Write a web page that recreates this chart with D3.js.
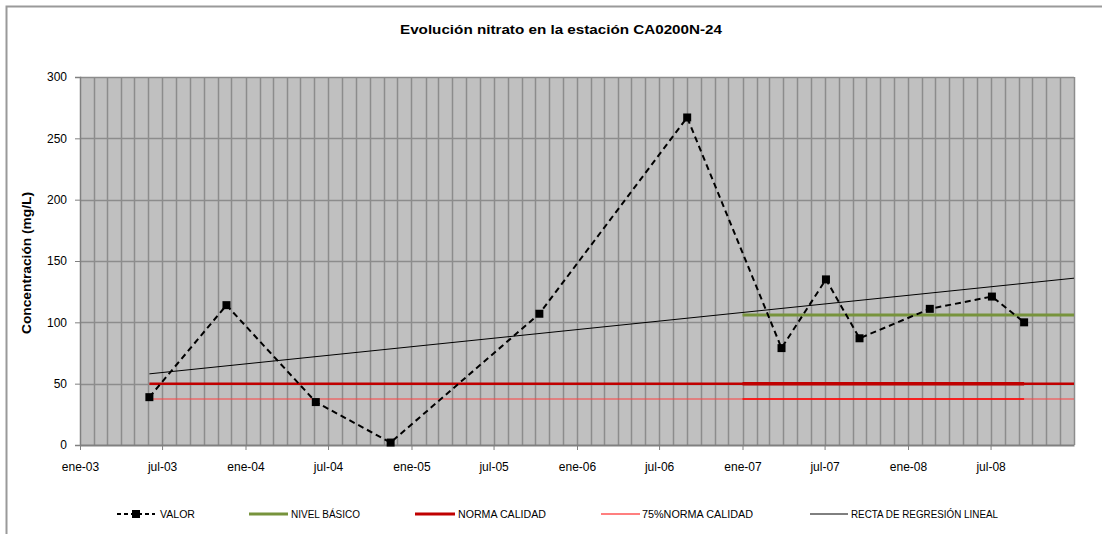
<!DOCTYPE html>
<html><head><meta charset="utf-8">
<script src="https://cdn.jsdelivr.net/npm/d3@7"></script>
<style>body{margin:0;background:#fff}svg{display:block;font-family:"Liberation Sans",Arial,sans-serif}</style>
</head><body><svg id="c" width="1102" height="534"></svg>
<script>
// ---- data ----
const sampleDates = ["2003-06-03","2003-11-20","2004-06-04","2004-11-16","2005-10-10","2006-09-01","2007-03-28","2007-07-04","2007-09-16","2008-02-18","2008-07-04","2008-09-13"];
const valor = [39,114,35,2,107,267,79,135,87,111,121,100];
const nivelBasico = 106;
const nivelBasicoStart = "2007-01-01";
const normaCalidad = 50;
const norma75 = 37.5;
const regresion = [58, 136]; // values at first sample date and at axis end
const xTickLabels = ["ene-03","jul-03","ene-04","jul-04","ene-05","jul-05","ene-06","jul-06","ene-07","jul-07","ene-08","jul-08"];
const yTicks = [0,50,100,150,200,250,300];
const legendLabels = ["VALOR","NIVEL BÁSICO","NORMA CALIDAD","75%NORMA CALIDAD","RECTA DE REGRESIÓN LINEAL"];

const parse = d3.timeParse("%Y-%m-%d");
const svg = d3.select("#c");
const L = 80, R = 1074, T = 77, B = 445;
const x = d3.scaleTime().domain([new Date(2003,0,1), new Date(2009,0,1)]).range([L,R]);
const y = d3.scaleLinear().domain([0,300]).range([B,T]);
const dates = sampleDates.map(parse);
const d0 = dates[0], dEnd = x.domain()[1], dLast = dates[dates.length-1];

// frame
svg.append("path").attr("d",`M6.5,534 V6.5 H1102`).attr("fill","none").attr("stroke","#9a9a9a").attr("stroke-width",2);

// title
svg.append("text").attr("x",561).attr("y",34).attr("text-anchor","middle")
  .attr("font-size",13).attr("font-weight","bold").attr("textLength",322).attr("lengthAdjust","spacingAndGlyphs")
  .text("Evolución nitrato en la estación CA0200N-24");

// plot bg
svg.append("rect").attr("x",L).attr("y",T).attr("width",R-L).attr("height",B-T).attr("fill","#c0c0c0");

// vertical monthly grid
const months = d3.timeMonth.range(x.domain()[0], d3.timeDay.offset(dEnd,1));
svg.append("g").selectAll("line").data(months.slice(1)).join("line")
  .attr("x1",d=>Math.round(x(d))+0.5).attr("x2",d=>Math.round(x(d))+0.5).attr("y1",T).attr("y2",B)
  .attr("stroke","#8c8c8c").attr("stroke-width",1.5);
// horizontal grid
svg.append("g").selectAll("line").data(yTicks.slice(1)).join("line")
  .attr("x1",L).attr("x2",R).attr("y1",d=>Math.round(y(d))+0.5).attr("y2",d=>Math.round(y(d))+0.5)
  .attr("stroke","#8c8c8c").attr("stroke-width",1.5);

// y axis
const yAxis = svg.append("g").attr("transform",`translate(${L},0)`)
  .call(d3.axisLeft(y).tickValues(yTicks).tickSize(5).tickPadding(8));
yAxis.select(".domain").attr("stroke","#808080").attr("stroke-width",1.5);
yAxis.selectAll(".tick line").attr("stroke","#808080");
yAxis.selectAll("text").attr("font-size",12).attr("font-family","Liberation Sans, Arial").attr("fill","#000");

// x axis
const xTickDates = xTickLabels.map((s,i)=>d3.timeMonth.offset(x.domain()[0], i*6));
const xAxis = svg.append("g").attr("transform",`translate(0,${B})`)
  .call(d3.axisBottom(x).tickValues(xTickDates).tickFormat((d,i)=>xTickLabels[i]).tickSize(5).tickSizeOuter(0).tickPadding(12));
xAxis.select(".domain").attr("stroke","#808080").attr("stroke-width",2);
xAxis.selectAll(".tick line").attr("stroke","#808080");
xAxis.selectAll("text").attr("font-size",12).attr("font-family","Liberation Sans, Arial").attr("fill","#000");

// y label
svg.append("text").attr("transform","translate(31,263) rotate(-90)").attr("text-anchor","middle")
  .attr("font-size",12).attr("font-weight","bold").attr("textLength",142).attr("lengthAdjust","spacingAndGlyphs")
  .text("Concentración (mg/L)");

const line = d3.line().x(d=>x(d[0])).y(d=>y(d[1]));
// 75% norma
svg.append("path").attr("d",line([[d0,norma75],[dEnd,norma75]])).attr("stroke","#ff4040").attr("stroke-width",1.2).attr("fill","none");
svg.append("path").attr("d",line([[parse(nivelBasicoStart),norma75],[dLast,norma75]])).attr("stroke","#ff0000").attr("stroke-width",1.5).attr("fill","none");
// norma
svg.append("path").attr("d",line([[d0,normaCalidad],[dEnd,normaCalidad]])).attr("stroke","#c00000").attr("stroke-width",2.5).attr("fill","none");
svg.append("path").attr("d",line([[parse(nivelBasicoStart),normaCalidad],[dLast,normaCalidad]])).attr("stroke","#c00000").attr("stroke-width",3.5).attr("fill","none");
// nivel basico
svg.append("path").attr("d",line([[parse(nivelBasicoStart),nivelBasico],[dEnd,nivelBasico]])).attr("stroke","#77933c").attr("stroke-width",3).attr("fill","none");
// regression
svg.append("path").attr("d",line([[d0,regresion[0]],[dEnd,regresion[1]]])).attr("stroke","#000").attr("stroke-width",1).attr("fill","none");
// valor
svg.append("path").attr("d",line(dates.map((d,i)=>[d,valor[i]]))).attr("stroke","#000").attr("stroke-width",2).attr("stroke-dasharray","6,4").attr("fill","none");
svg.append("g").selectAll("rect").data(dates).join("rect")
  .attr("x",(d)=>x(d)-4).attr("y",(d,i)=>y(valor[i])-4).attr("width",8).attr("height",8).attr("fill","#000");

// legend
const ly = 514;
const leg = [
  {sx:117, ex:155, tx:160, tw:35},
  {sx:249, ex:288, tx:291, tw:69},
  {sx:415, ex:455, tx:458, tw:88},
  {sx:601, ex:640, tx:642, tw:111},
  {sx:810, ex:848, tx:851, tw:147}
];
const g = svg.append("g");
g.append("line").attr("x1",leg[0].sx).attr("x2",leg[0].ex).attr("y1",ly).attr("y2",ly).attr("stroke","#000").attr("stroke-width",2).attr("stroke-dasharray","4,3");
g.append("rect").attr("x",(leg[0].sx+leg[0].ex)/2-4).attr("y",ly-4).attr("width",8).attr("height",8).attr("fill","#000");
g.append("line").attr("x1",leg[1].sx).attr("x2",leg[1].ex).attr("y1",ly).attr("y2",ly).attr("stroke","#77933c").attr("stroke-width",3);
g.append("line").attr("x1",leg[2].sx).attr("x2",leg[2].ex).attr("y1",ly).attr("y2",ly).attr("stroke","#c00000").attr("stroke-width",3);
g.append("line").attr("x1",leg[3].sx).attr("x2",leg[3].ex).attr("y1",ly).attr("y2",ly).attr("stroke","#ff0000").attr("stroke-width",1.2);
g.append("line").attr("x1",leg[4].sx).attr("x2",leg[4].ex).attr("y1",ly).attr("y2",ly).attr("stroke","#000").attr("stroke-width",1);
g.selectAll("text").data(legendLabels).join("text")
  .attr("x",(d,i)=>leg[i].tx).attr("y",ly+4).attr("font-size",10).attr("textLength",(d,i)=>leg[i].tw).attr("lengthAdjust","spacingAndGlyphs")
  .text(d=>d);
</script></body></html>
